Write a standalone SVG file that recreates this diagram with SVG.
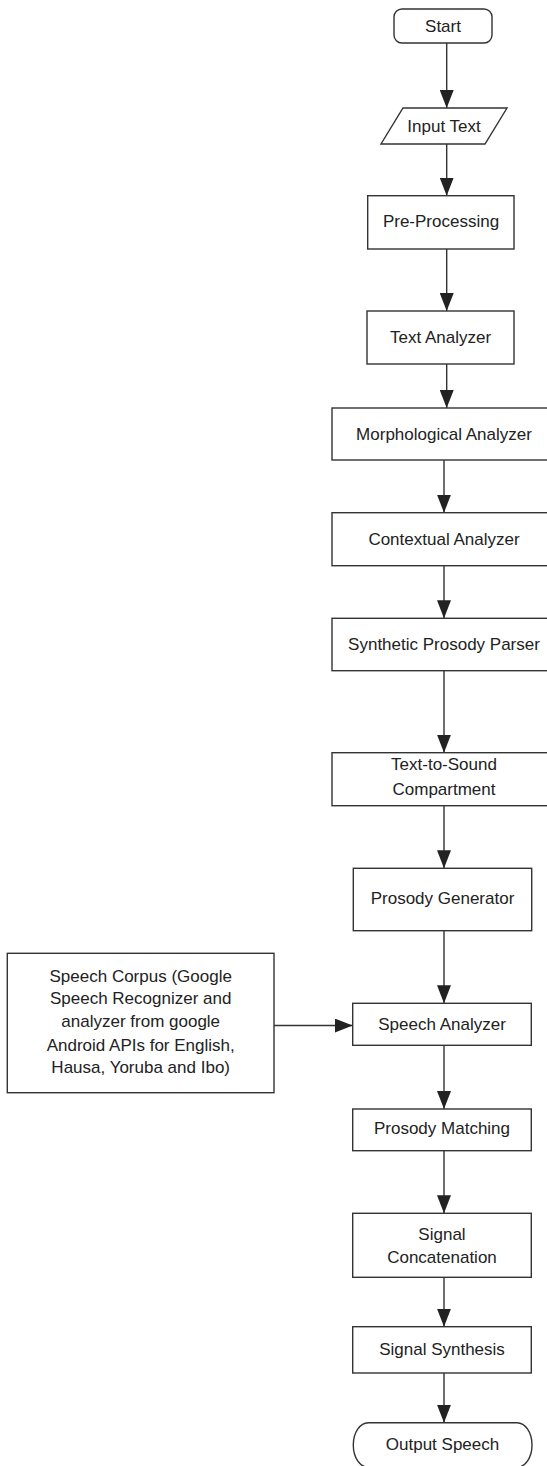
<svg xmlns="http://www.w3.org/2000/svg" width="547" height="1466" viewBox="0 0 547 1466">
<style>
.n{fill:#fff;stroke:#333;stroke-width:1.4}
.t{font-family:"Liberation Sans",Arial,sans-serif;font-size:17px;fill:#222;text-anchor:middle}
.c{stroke:#333;stroke-width:1.4;fill:none;marker-end:url(#ah)}
</style>
<defs>
<marker id="ah" viewBox="0 0 18 14" markerWidth="18" markerHeight="14" refX="18" refY="7" orient="auto" markerUnits="userSpaceOnUse">
<path d="M0,0 L18,7 L0,14 z" fill="#222"/>
</marker>
</defs>
<rect width="547" height="1466" fill="#fff"/>
<g id="connectors">
<line class="c" x1="446.7" y1="43" x2="446.7" y2="108"/>
<line class="c" x1="446.7" y1="144" x2="446.7" y2="195.7"/>
<line class="c" x1="446.7" y1="249" x2="446.7" y2="311"/>
<line class="c" x1="446.7" y1="364" x2="446.7" y2="408"/>
<line class="c" x1="444" y1="460" x2="444" y2="512.7"/>
<line class="c" x1="444" y1="565.7" x2="444" y2="618.3"/>
<line class="c" x1="444" y1="670.7" x2="444" y2="752.7"/>
<line class="c" x1="444" y1="805.7" x2="444" y2="868.3"/>
<line class="c" x1="444" y1="930.7" x2="444" y2="1003.3"/>
<line class="c" x1="444" y1="1045.3" x2="444" y2="1109"/>
<line class="c" x1="444" y1="1150.7" x2="444" y2="1213.3"/>
<line class="c" x1="444" y1="1277.3" x2="444" y2="1326.7"/>
<line class="c" x1="444" y1="1373" x2="444" y2="1422.7"/>
<line class="c" x1="274" y1="1025.5" x2="352.7" y2="1025.5"/>
</g>
<g id="start">
<rect class="n" x="394" y="9" width="98" height="34" rx="8"/>
<text class="t" x="443" y="32">Start</text>
</g>
<g id="input-text">
<polygon class="n" points="403,108 507,108 485,144 381,144"/>
<text class="t" x="444" y="132">Input Text</text>
</g>
<g id="pre-processing">
<rect class="n" x="367.7" y="195.7" width="146.3" height="53.3"/>
<text class="t" x="441" y="227">Pre-Processing</text>
</g>
<g id="text-analyzer">
<rect class="n" x="367" y="311" width="147" height="53"/>
<text class="t" x="440.5" y="343">Text Analyzer</text>
</g>
<g id="morphological-analyzer">
<rect class="n" x="332" y="408" width="224" height="52"/>
<text class="t" x="444" y="440">Morphological Analyzer</text>
</g>
<g id="contextual-analyzer">
<rect class="n" x="332" y="512.7" width="224" height="53"/>
<text class="t" x="444" y="545">Contextual Analyzer</text>
</g>
<g id="synthetic-prosody-parser">
<rect class="n" x="332" y="618.3" width="224" height="52.4"/>
<text class="t" x="444" y="650">Synthetic Prosody Parser</text>
</g>
<g id="text-to-sound">
<rect class="n" x="332" y="752.7" width="224" height="53"/>
<text class="t" x="444" y="770">Text-to-Sound</text>
<text class="t" x="444" y="795">Compartment</text>
</g>
<g id="prosody-generator">
<rect class="n" x="353.3" y="868.3" width="178.4" height="62.4"/>
<text class="t" x="442.5" y="904">Prosody Generator</text>
</g>
<g id="speech-corpus">
<rect class="n" x="7.3" y="953.3" width="266.7" height="139.4"/>
<text class="t" x="140.7" y="981.7">Speech Corpus (Google</text>
<text class="t" x="140.7" y="1004.3">Speech Recognizer and</text>
<text class="t" x="140.7" y="1027">analyzer from google</text>
<text class="t" x="140.7" y="1050.7">Android APIs for English,</text>
<text class="t" x="140.7" y="1073.3">Hausa, Yoruba and Ibo)</text>
</g>
<g id="speech-analyzer">
<rect class="n" x="352.7" y="1003.3" width="178.6" height="42"/>
<text class="t" x="442" y="1030">Speech Analyzer</text>
</g>
<g id="prosody-matching">
<rect class="n" x="352.7" y="1109" width="178.6" height="41.7"/>
<text class="t" x="442" y="1134">Prosody Matching</text>
</g>
<g id="signal-concatenation">
<rect class="n" x="352.7" y="1213.3" width="178.6" height="64"/>
<text class="t" x="442" y="1240">Signal</text>
<text class="t" x="442" y="1262.7">Concatenation</text>
</g>
<g id="signal-synthesis">
<rect class="n" x="352.7" y="1326.7" width="178.6" height="46.3"/>
<text class="t" x="442" y="1355">Signal Synthesis</text>
</g>
<g id="output-speech">
<rect class="n" x="353.3" y="1422.7" width="178.7" height="44.6" rx="15" ry="22"/>
<text class="t" x="442.5" y="1450">Output Speech</text>
</g>
</svg>
